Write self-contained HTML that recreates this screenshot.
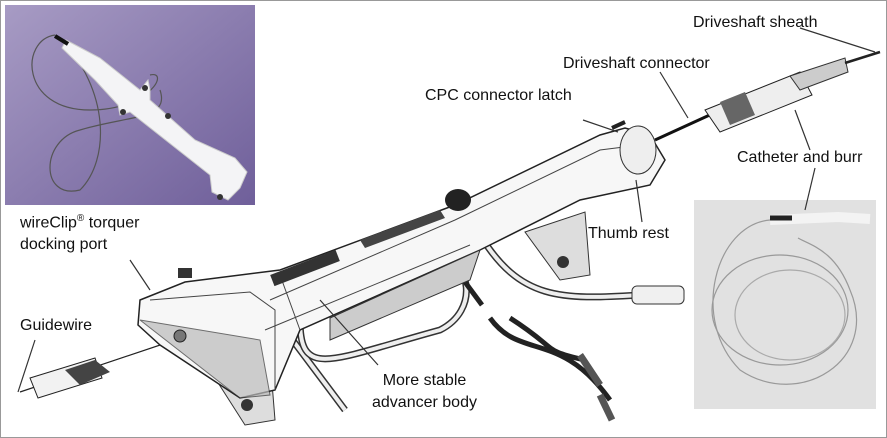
<!DOCTYPE html>
<html><head><meta charset="utf-8"><style>
html,body{margin:0;padding:0;background:#fff;}
body{width:887px;height:438px;position:relative;overflow:hidden;font-family:"Liberation Sans",sans-serif;}
.frame{position:absolute;left:0;top:0;width:885px;height:436px;border:1px solid #999;}
.t{position:absolute;font-size:16px;color:#111;line-height:23px;white-space:nowrap;}
</style></head><body>
<div class="frame"></div>
<svg width="887" height="438" style="position:absolute;left:0;top:0">
<defs>
<linearGradient id="pg" x1="0" y1="0" x2="1" y2="1"><stop offset="0" stop-color="#a79bc4"/><stop offset="1" stop-color="#6f5f9a"/></linearGradient>
</defs>
<!-- top-left inset -->
<rect x="5" y="5" width="250" height="200" fill="url(#pg)"/>
<path d="M55 35 C20 40 20 110 90 110 C150 110 170 70 150 75 M60 38 C110 90 110 160 80 190 C40 200 40 140 80 130 C130 115 170 120 160 90" stroke="#555" fill="none" stroke-width="1.2"/>
<path d="M66 40 L100 58 L140 90 L148 80 L150 90 L150 100 L195 140 L235 158 L247 172 L240 188 L228 200 L212 192 L210 175 L130 112 L120 115 L118 105 L95 80 L62 48 Z" fill="#f4f4f6" stroke="#ccc"/>
<path d="M55 36 L68 44" stroke="#111" stroke-width="4"/>
<circle cx="145" cy="88" r="3" fill="#333"/><circle cx="220" cy="197" r="3" fill="#333"/><circle cx="123" cy="112" r="3" fill="#333"/><circle cx="168" cy="116" r="3" fill="#333"/>
<!-- bottom-right inset -->
<rect x="694" y="200" width="182" height="209" fill="#e1e1e1"/>
<path d="M770 220 L838 217 L870 219" stroke="#f3f3f3" stroke-width="10"/>
<path d="M770 218 L792 218" stroke="#222" stroke-width="5"/>
<path d="M770 220 C715 225 690 320 740 370 C800 410 880 360 850 290 C835 250 810 245 798 238" stroke="#999" fill="none" stroke-width="1.2"/>
<ellipse cx="780" cy="310" rx="68" ry="55" stroke="#999" fill="none" stroke-width="1.2"/>
<ellipse cx="790" cy="315" rx="55" ry="45" stroke="#aaa" fill="none" stroke-width="1.2"/>
<!-- guidewire & connector -->
<path d="M20 392 L190 335" stroke="#222" stroke-width="1.2"/>
<path d="M30 378 L95 358 L102 378 L38 398 Z" fill="#f2f2f2" stroke="#222"/>
<path d="M65 370 L95 360 L110 372 L80 385 Z" fill="#444"/>
<!-- back tubes -->
<path d="M285 330 L345 410" stroke="#333" stroke-width="7"/><path d="M285 330 L345 410" stroke="#eee" stroke-width="4"/>
<path d="M300 320 C300 380 330 360 440 330 C480 310 470 260 440 258" stroke="#333" stroke-width="7" fill="none"/>
<path d="M300 320 C300 380 330 360 440 330 C480 310 470 260 440 258" stroke="#eee" stroke-width="4" fill="none"/>
<path d="M445 255 L482 305" stroke="#222" stroke-width="5"/>
<path d="M490 318 C520 360 560 330 610 400 M510 318 C560 350 540 350 585 360" stroke="#222" stroke-width="5" fill="none"/>
<path d="M600 395 L612 420 M580 355 L600 385" stroke="#555" stroke-width="7"/>
<path d="M480 235 C520 300 560 300 640 295" stroke="#333" stroke-width="7" fill="none"/>
<path d="M480 235 C520 300 560 300 640 295" stroke="#eee" stroke-width="4" fill="none"/>
<rect x="632" y="286" width="52" height="18" rx="5" fill="#f0f0f0" stroke="#333"/>
<!-- feet -->
<path d="M215 378 L270 358 L275 420 L245 425 Z" fill="#ddd" stroke="#333"/>
<circle cx="247" cy="405" r="6" fill="#333"/>
<path d="M525 232 L585 212 L590 275 L560 280 Z" fill="#ddd" stroke="#333"/>
<circle cx="563" cy="262" r="6" fill="#333"/>
<!-- main body -->
<path d="M140 300 L185 282 L280 270 L455 205 L600 135 L625 128 L650 135 L665 160 L650 185 L580 200 L480 250 L300 330 L275 390 L240 398 L160 345 L138 325 Z" fill="#f7f7f7" stroke="#222" stroke-width="1.5"/>
<path d="M150 300 L250 292 L275 310 L275 390 M270 300 L455 220 L600 150 L640 145 M265 330 L470 245 M280 275 L300 330" stroke="#444" fill="none"/>
<path d="M140 320 L240 398 L270 395 L260 340 Z" fill="#bbb" stroke="#333" opacity=".7"/>
<path d="M330 340 L470 280 L480 250 L330 318 Z" fill="#ccc" stroke="#333"/>
<rect x="270" y="262" width="70" height="12" transform="rotate(-21 305 268)" fill="#333"/>
<path d="M360 240 L440 210 L445 218 L365 248 Z" fill="#444"/>
<ellipse cx="458" cy="200" rx="13" ry="11" fill="#222"/>
<ellipse cx="638" cy="150" rx="18" ry="24" fill="#eee" stroke="#333"/>
<path d="M612 128 L625 122" stroke="#222" stroke-width="4"/>
<circle cx="180" cy="336" r="6" fill="#777" stroke="#222"/>
<rect x="178" y="268" width="14" height="10" fill="#333"/>
<!-- catheter -->
<path d="M655 140 L725 108" stroke="#111" stroke-width="3"/>
<path d="M705 110 L800 72 L812 95 L720 132 Z" fill="#eee" stroke="#222"/>
<path d="M720 102 L745 92 L755 115 L730 125 Z" fill="#666"/>
<path d="M790 76 L845 58 L848 72 L800 90 Z" fill="#ccc" stroke="#333"/>
<path d="M845 63 L880 52" stroke="#222" stroke-width="2.5"/>
<!-- leaders -->
<g stroke="#333" stroke-width="1.2" fill="none">
<path d="M800 28 L875 52"/>
<path d="M660 72 L688 118"/>
<path d="M583 120 L618 132"/>
<path d="M815 168 L805 210"/>
<path d="M795 110 L810 150"/>
<path d="M636 180 L642 222"/>
<path d="M130 260 L150 290"/>
<path d="M35 340 L18 392"/>
<path d="M320 300 L378 365"/>
</g>
</svg>
<div class="t" style="left:693px;top:11px">Driveshaft sheath</div>
<div class="t" style="left:563px;top:52px">Driveshaft connector</div>
<div class="t" style="left:425px;top:84px">CPC connector latch</div>
<div class="t" style="left:737px;top:146px">Catheter and burr</div>
<div class="t" style="left:588px;top:222px">Thumb rest</div>
<div class="t" style="left:20px;top:208px;line-height:22px">wireClip<sup style="font-size:10px">®</sup> torquer<br>docking port</div>
<div class="t" style="left:20px;top:314px">Guidewire</div>
<div class="t" style="left:372px;top:370px;text-align:center;line-height:22px">More stable<br>advancer body</div>
</body></html>
